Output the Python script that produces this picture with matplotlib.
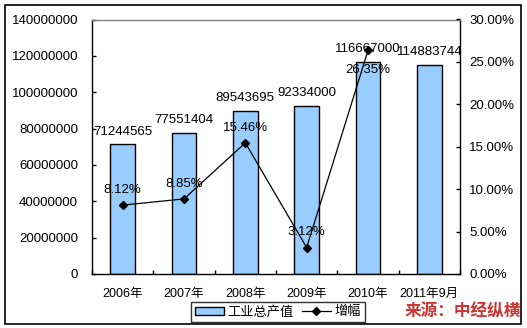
import matplotlib
matplotlib.use("Agg")
import matplotlib.pyplot as plt
from matplotlib.patches import Rectangle
from matplotlib.lines import Line2D
import numpy as np

plt.rcParams['font.family'] = ['Liberation Sans', 'Noto Sans CJK SC', 'DejaVu Sans']

categories = ['2006年', '2007年', '2008年', '2009年', '2010年', '2011年9月']
output_values = [71244565, 77551404, 89543695, 92334000, 116667000, 114883744]
growth_pct = [8.12, 8.85, 15.46, 3.12, 26.35]
growth_labels = ['8.12%', '8.85%', '15.46%', '3.12%', '26.35%']
left_ticks = [0, 20000000, 40000000, 60000000, 80000000, 100000000, 120000000, 140000000]
right_ticks = [0, 5, 10, 15, 20, 25, 30]

W, H = 527, 328
fig = plt.figure(figsize=(W / 100, H / 100), dpi=100)
fig.patch.set_facecolor('white')

# outer frame
fig.patches.append(Rectangle((5 / W, 1 - 324 / H), 516 / W, 319 / H, transform=fig.transFigure,
                             fill=False, edgecolor='black', linewidth=1.2))

ax = fig.add_axes([92 / W, 1 - 274 / H, (460 - 92) / W, (274 - 19.5) / H])
x = np.arange(len(categories))
ax.bar(x, output_values, width=0.4, color='#99CCFF', edgecolor='black', linewidth=1.0, zorder=2)
ax.set_xlim(-0.5, len(categories) - 0.5)
ax.set_ylim(0, 140000000)
ax.set_yticks(left_ticks)
ax.set_yticklabels([str(v) for v in left_ticks])
ax.set_xticks(x)
ax.set_xticklabels(categories)
ax.set_xticks(np.arange(len(categories) + 1) - 0.5, minor=True)
ax.tick_params(axis='x', which='major', length=0, pad=10, labelsize=9)
ax.tick_params(axis='x', which='minor', length=3, direction='in', width=1)
ax.tick_params(axis='y', which='major', length=3, direction='in', width=1, pad=10, labelsize=9.5)
for s in ['left', 'bottom', 'right']:
    ax.spines[s].set_color('black')
    ax.spines[s].set_linewidth(1.0)
ax.spines['top'].set_color('#808080')
ax.spines['top'].set_linewidth(1.0)

for xi, v in zip(x, output_values):
    ax.annotate(str(v), (xi, v), xytext=(0, 5), textcoords='offset points',
                ha='center', va='bottom', fontsize=9.5, color='black')

ax2 = ax.twinx()
ax2.set_ylim(0, 30)
ax2.set_yticks(right_ticks)
ax2.set_yticklabels(['%.2f%%' % t for t in right_ticks])
ax2.tick_params(axis='y', length=3, direction='in', width=1, pad=6.5, labelsize=9.5)
for s in ax2.spines.values():
    s.set_visible(False)
gx = x[:len(growth_pct)]
ax2.plot(gx, growth_pct, color='black', linewidth=0.9, marker='D', markersize=4,
         markerfacecolor='black', markeredgecolor='black', zorder=3)
for xi, v, lab in zip(gx, growth_pct, growth_labels):
    off = -14 if v > 25 else 11
    ax2.annotate(lab, (xi, v), xytext=(0, off), textcoords='offset points',
                 ha='center', va='center', fontsize=9.5, color='black')

handles = [Rectangle((0, 0), 1, 1, facecolor='#99CCFF', edgecolor='black', linewidth=1.0),
           Line2D([0], [0], color='black', linewidth=0.9, marker='D', markersize=4)]
leg = fig.legend(handles, ['工业总产值', '增幅'], loc='center', bbox_to_anchor=(278 / W, 1 - 312 / H),
                 ncol=2, frameon=True, fancybox=False, edgecolor='black', fontsize=9.5,
                 handlelength=2.2, handleheight=0.6, handletextpad=0.3, columnspacing=0.6,
                 borderpad=0.25, borderaxespad=0)
leg.get_frame().set_linewidth(1.0)

fig.text(463 / W, 1 - 311 / H, '来源：中经纵横', ha='center', va='center', fontsize=12,
         fontweight='bold', color='#CC3333', family=['Noto Sans CJK SC', 'DejaVu Sans'])

fig.savefig('out.png', dpi=100)
